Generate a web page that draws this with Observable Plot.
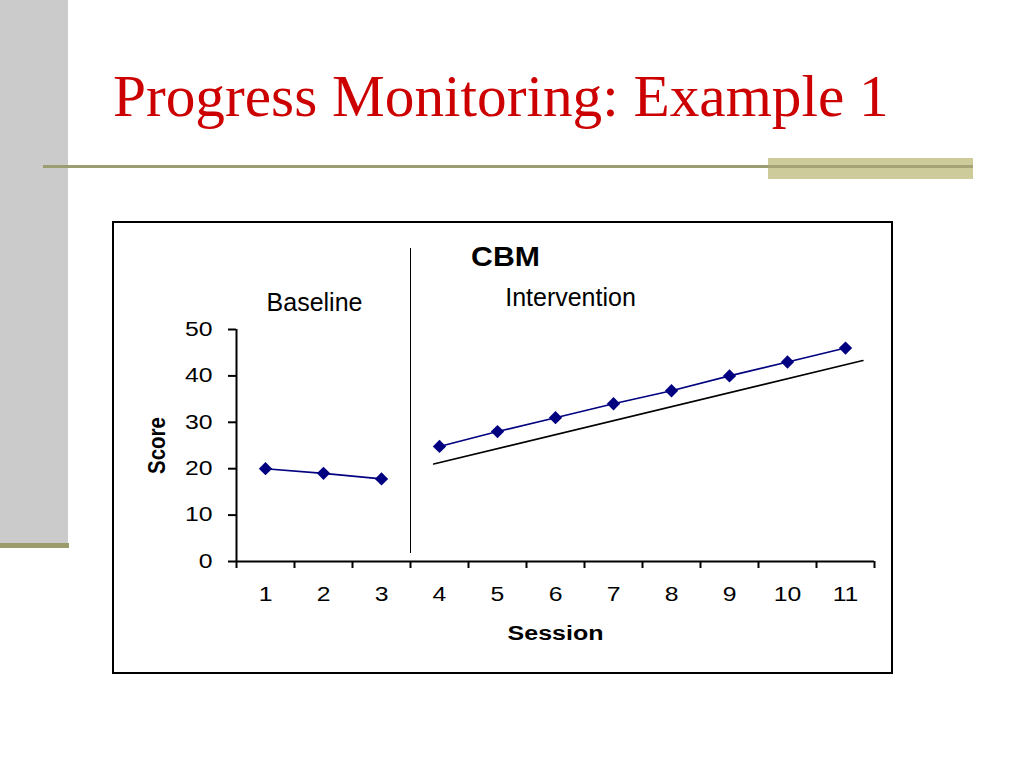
<!DOCTYPE html>
<html>
<head>
<meta charset="utf-8">
<script src="https://cdn.jsdelivr.net/npm/d3@7"></script>
<script src="https://cdn.jsdelivr.net/npm/@observablehq/plot@0.6"></script>
<style>
  html, body { margin: 0; padding: 0; background: #fff; }
  #page { position: relative; width: 1024px; height: 768px; overflow: hidden; background: #fff; }
  #sidebar { position: absolute; left: 0; top: 0; width: 68px; height: 543px; background: #cbcbcb; }
  #sidebarEdge { position: absolute; left: 0; top: 543px; width: 69px; height: 5px; background: #9b9b6b; }
  #rule { position: absolute; left: 43px; top: 165px; width: 929px; height: 3px; background: #9d9d73; }
  #ruleBlock { position: absolute; left: 768px; top: 158px; width: 205px; height: 21px; background: #cccb99; }
  #ruleBlockLine { position: absolute; left: 768px; top: 165px; width: 205px; height: 3px; background: #a4a477; }
  #title { position: absolute; left: 113px; top: 67px; font-family: "Liberation Serif", "Times New Roman", serif; font-size: 59.3px; line-height: 1; color: #cc0000; white-space: nowrap; }
  #box { position: absolute; left: 112px; top: 221px; width: 781px; height: 453px; box-sizing: border-box; border: 2px solid #000; background: #fff; }
  #box svg { display: block; }
</style>
</head>
<body>
<div id="page">
  <div id="sidebar"></div>
  <div id="sidebarEdge"></div>
  <div id="rule"></div>
  <div id="ruleBlock"></div>
  <div id="ruleBlockLine"></div>
  <div id="title">Progress Monitoring: Example 1</div>
  <div id="box"></div>
</div>
<script>
const baselineSessions = [1, 2, 3];
const baselineScores = [20, 19, 17.8];
const interventionSessions = [4, 5, 6, 7, 8, 9, 10, 11];
const interventionScores = [24.8, 28, 31, 34, 36.8, 40, 43, 46];
const aimSessions = [3.9, 11.3];
const aimScores = [21, 43.3];
const phaseChange = [3.5];
const sessionTicks = [1, 2, 3, 4, 5, 6, 7, 8, 9, 10, 11];
const sessionBoundaries = [0.5, 1.5, 2.5, 3.5, 4.5, 5.5, 6.5, 7.5, 8.5, 9.5, 10.5, 11.5];
const scoreTicks = [0, 10, 20, 30, 40, 50];
const chartTitle = "CBM";
const phaseLabels = ["Baseline", "Intervention"];
const xLabel = "Session";
const yLabel = "Score";

const points = [
  ...baselineSessions.map((s, i) => ({session: s, score: baselineScores[i], phase: "Baseline"})),
  ...interventionSessions.map((s, i) => ({session: s, score: interventionScores[i], phase: "Intervention"}))
];
const aim = aimSessions.map((s, i) => ({session: s, score: aimScores[i]}));

const font = "'Liberation Sans', Arial, sans-serif";
const navy = "#000080";

const chart = Plot.plot({
  width: 777,
  height: 449,
  marginLeft: 122,
  marginRight: 17,
  marginTop: 106,
  marginBottom: 111,
  style: {fontFamily: font, background: "#fff", color: "#000", overflow: "visible"},
  x: {type: "linear", domain: [0.5, 11.5], axis: null},
  y: {type: "linear", domain: [0, 50], axis: null},
  marks: [
    Plot.ruleX([0.5], {stroke: "#000", strokeWidth: 2}),
    Plot.ruleY([0], {stroke: "#000", strokeWidth: 2}),
    Plot.axisY({ticks: scoreTicks, tickSize: 8, tickPadding: 16, fontSize: 19.5, stroke: "#000", strokeWidth: 2, label: null, anchor: "left", className: "stretch-yticks"}),
    Plot.axisX({ticks: sessionBoundaries, tickSize: 7, tickFormat: () => "", stroke: "#000", strokeWidth: 2, label: null, anchor: "bottom"}),
    Plot.axisX({ticks: sessionTicks, tickSize: 0, tickPadding: 26, fontSize: 19.5, label: null, anchor: "bottom", className: "stretch-xticks"}),
    Plot.ruleX(phaseChange, {stroke: "#000", strokeWidth: 1, insetTop: -81, insetBottom: 8}),
    Plot.line(aim, {x: "session", y: "score", stroke: "#000", strokeWidth: 1.6}),
    Plot.line(points, {x: "session", y: "score", z: "phase", stroke: navy, strokeWidth: 1.6}),
    Plot.dot(points, {x: "session", y: "score", symbol: "diamond2", r: 6, fill: navy, stroke: "none"}),
    Plot.text([chartTitle], {frameAnchor: "top-left", dx: 269, dy: -72, fontSize: 27, fontWeight: "bold", textAnchor: "middle", lineAnchor: "middle", className: "stretch-title"}),
    Plot.text([phaseLabels[0]], {frameAnchor: "top-left", dx: 78, dy: -27, fontSize: 25, textAnchor: "middle", lineAnchor: "middle"}),
    Plot.text([phaseLabels[1]], {frameAnchor: "top-left", dx: 334, dy: -32, fontSize: 25, textAnchor: "middle", lineAnchor: "middle"}),
    Plot.text([xLabel], {frameAnchor: "bottom", dy: 72, fontSize: 20.5, fontWeight: "bold", textAnchor: "middle", lineAnchor: "middle", className: "stretch-xlabel"}),
    Plot.text([yLabel], {frameAnchor: "left", dx: -79, fontSize: 20.5, fontWeight: "bold", rotate: -90, textAnchor: "middle", lineAnchor: "middle", className: "stretch-ylabel"})
  ]
});
document.getElementById("box").appendChild(chart);

// The reference chart's text is horizontally stretched; reproduce that look.
function anchorOf(el) {
  for (let n = el; n && n !== chart.parentNode; n = n.parentNode) {
    const a = n.getAttribute && n.getAttribute("text-anchor");
    if (a) return a;
  }
  return "start";
}
function stretch(selector, sx, sy) {
  chart.querySelectorAll(selector).forEach((el) => {
    const b = el.getBBox();
    const anchor = anchorOf(el);
    const px = anchor === "end" ? b.x + b.width : anchor === "middle" ? b.x + b.width / 2 : b.x;
    const py = b.y + b.height / 2;
    const t = el.getAttribute("transform") || "";
    el.setAttribute("transform", `${t} translate(${px},${py}) scale(${sx},${sy}) translate(${-px},${-py})`);
  });
}
stretch(".stretch-yticks text", 1.27, 1);
stretch(".stretch-xticks text", 1.27, 1);
stretch(".stretch-xlabel text", 1.22, 1);
stretch(".stretch-title text", 1.12, 1);
stretch(".stretch-ylabel text", 1, 1.14);
</script>
</body>
</html>
